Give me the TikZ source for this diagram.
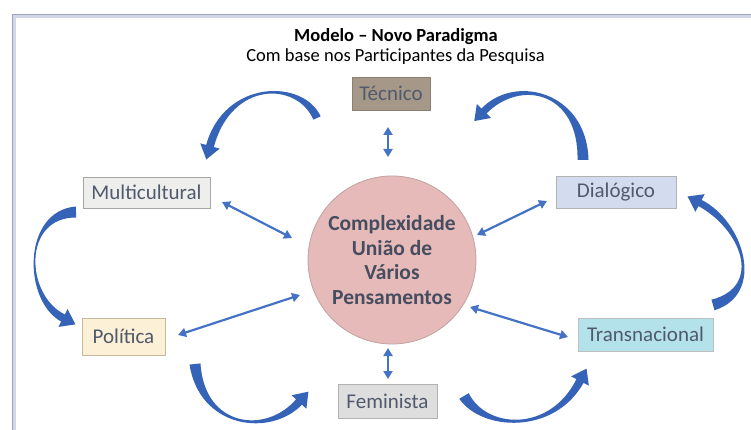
\documentclass[tikz,border=0pt]{standalone}
\usepackage{fontspec}
\setmainfont{Carlito}
\usetikzlibrary{arrows.meta,calc}
\definecolor{framec}{HTML}{9CA4BE}
\definecolor{frameshadow}{HTML}{D4D8E6}
\definecolor{boxtext}{HTML}{505A6C}
\definecolor{circtext}{HTML}{454D5F}
\definecolor{arrowblue}{HTML}{4472C4}
\definecolor{curveblue}{HTML}{3563B8}
\definecolor{tecfill}{HTML}{A69888}
\definecolor{tecdraw}{HTML}{8C8070}
\definecolor{mulfill}{HTML}{EEEEEC}
\definecolor{dialfill}{HTML}{D2DCEE}
\definecolor{polfill}{HTML}{FCF0D6}
\definecolor{polline}{HTML}{C8B898}
\definecolor{trafill}{HTML}{B4E2EA}
\definecolor{femfill}{HTML}{DEDEDE}
\definecolor{circfill}{HTML}{E7BABA}
\definecolor{circdraw}{HTML}{C0A0A0}
\tikzset{
  concept/.style={draw=gray!70, line width=0.8, text=boxtext, inner sep=0pt,
    font=\fontsize{21}{24}\selectfont, anchor=center},
  twoway/.style={arrowblue, line width=2.2, {Triangle[width=9,length=8]}-{Triangle[width=9,length=8]}},
  cyclefill/.style={fill=curveblue},
}
% tapered curved arrow: #1 P0 (tail), #2 P1, #3 P2, #4 P3 (head base),
% #5 tail half width, #6 control half width, #7 end half width
\newcommand\taperarrow[7]{%
  \fill[cyclefill]
    ($(#1)!#5!90:(#2)$) .. controls ($(#2)!#6!-90:(#1)$) and ($(#3)!#6!90:(#4)$) .. ($(#4)!#7!-90:(#3)$)
    -- ($(#4)!10pt!-90:(#3)$) -- ($(#4)!-14pt!(#3)$) -- ($(#4)!10pt!90:(#3)$)
    -- ($(#4)!#7!90:(#3)$) .. controls ($(#3)!#6!-90:(#4)$) and ($(#2)!#6!90:(#1)$) .. ($(#1)!#5!-90:(#2)$)
    -- cycle;}
\begin{document}
\begin{tikzpicture}[x=1pt,y=-1pt]
\useasboundingbox (0,0) rectangle (751,430);
\fill[white] (0,0) rectangle (751,430);
% frame
\draw[frameshadow, line width=3] (14.5,430) -- (14.5,16.5) -- (751,16.5);
\draw[framec, line width=1.8] (12.5,430) -- (12.5,14.5) -- (751,14.5);

% titles
\node[font=\fontsize{18.5}{20}\selectfont\bfseries, text=black, anchor=base] (title) at (396,42) {Modelo – Novo Paradigma};
\node[font=\fontsize{18.5}{20}\selectfont, text=black, anchor=base] (subtitle) at (395.5,61.5) {Com base nos Participantes da Pesquisa};

% center
\node[circle, draw=circdraw, fill=circfill, line width=0.8, minimum size=168, inner sep=0pt,
  text=circtext, align=center, font=\fontsize{21.5}{24.5}\selectfont\bfseries] (center) at (392,260)
  {Complexidade\\União de\\Vários\\Pensamentos};

% concept boxes
\node[concept, fill=tecfill, draw=tecdraw, minimum width=78, minimum height=33] (tec) at (391,93.5) {Técnico};
\node[concept, fill=mulfill, minimum width=127, minimum height=31] (mul) at (146.5,192.5) {Multicultural};
\node[concept, fill=dialfill, draw=gray!60, minimum width=120, minimum height=32] (dial) at (616,192) {Dialógico};
\node[concept, fill=polfill, draw=polline, minimum width=83, minimum height=37] (pol) at (123.5,336.5) {Política};
\node[concept, fill=trafill, draw=gray!50, minimum width=135, minimum height=33] (tra) at (645.5,334.5) {Transnacional};
\node[concept, fill=femfill, draw=gray!60, minimum width=99, minimum height=34] (fem) at (387.5,401) {Feminista};

% connector end points
\coordinate (tecA) at (388,127);   \coordinate (tecB) at (388,157);
\coordinate (mulA) at (222,202);   \coordinate (mulB) at (292,238);
\coordinate (dialA) at (547,201);  \coordinate (dialB) at (477,235);
\coordinate (polA) at (178,335);   \coordinate (polB) at (300,295);
\coordinate (traA) at (568,337);   \coordinate (traB) at (470,307);
\coordinate (femA) at (388,348);   \coordinate (femB) at (388,379);

% two-way connectors
\draw[twoway] (tecA) -- (tecB);
\draw[twoway] (mulA) -- (mulB);
\draw[twoway] (dialA) -- (dialB);
\draw[twoway] (polA) -- (polB);
\draw[twoway] (traA) -- (traB);
\draw[twoway] (femA) -- (femB);

% cycle arrows (tail, control, control, head base)
\coordinate (a0) at (317,118); \coordinate (a1) at (300,80);  \coordinate (a2) at (228,80);  \coordinate (a3) at (210,146);
\coordinate (b0) at (583,160); \coordinate (b1) at (583,92);  \coordinate (b2) at (518,76);  \coordinate (b3) at (484,111);
\coordinate (c0) at (76,212);  \coordinate (c1) at (22,214);  \coordinate (c2) at (24,298);  \coordinate (c3) at (63,318);
\coordinate (d0) at (713,305); \coordinate (d1) at (765,290); \coordinate (d2) at (742,225); \coordinate (d3) at (700,203);
\coordinate (e0) at (195,364); \coordinate (e1) at (202,428); \coordinate (e2) at (268,436); \coordinate (e3) at (299,402);
\coordinate (f0) at (464,396); \coordinate (f1) at (484,430); \coordinate (f2) at (552,434); \coordinate (f3) at (580,381);

\taperarrow{a0}{a1}{a2}{a3}{4pt}{3.5pt}{4pt}
\taperarrow{b0}{b1}{b2}{b3}{5.5pt}{4pt}{3.5pt}
\taperarrow{c0}{c1}{c2}{c3}{5.5pt}{3pt}{4pt}
\taperarrow{d0}{d1}{d2}{d3}{5.5pt}{4pt}{3.5pt}
\taperarrow{e0}{e1}{e2}{e3}{5.5pt}{2.5pt}{4pt}
\taperarrow{f0}{f1}{f2}{f3}{5.5pt}{2.5pt}{4pt}
\end{tikzpicture}
\end{document}
